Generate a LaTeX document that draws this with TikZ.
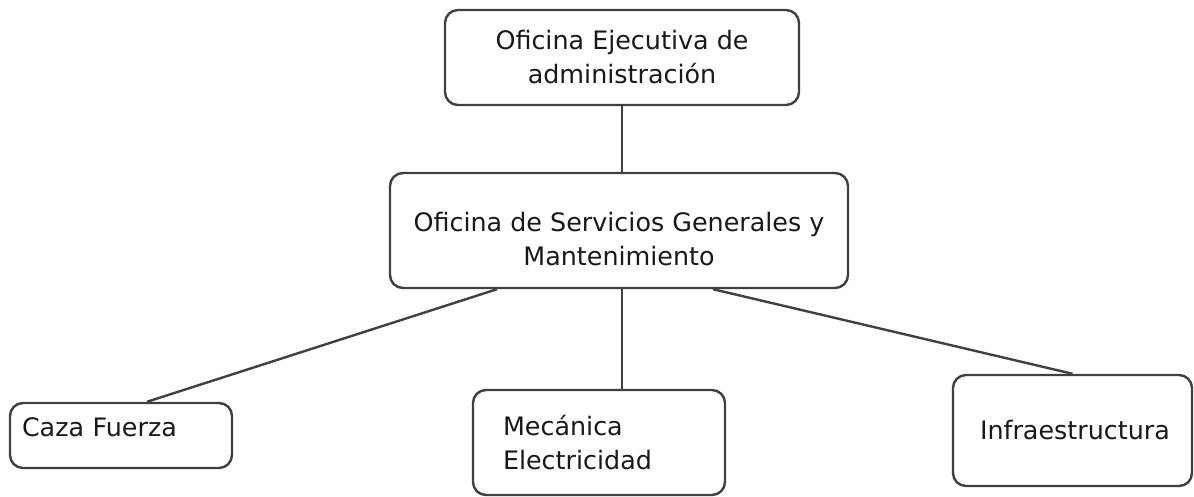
\documentclass[tikz,border=0pt]{standalone}
\usepackage{fontspec}
\setmainfont{DejaVu Sans}
\usetikzlibrary{positioning}
\tikzset{
    office/.style={
		draw=black!75, line width=2.4pt, rounded corners=13pt,
		text=black!90, font=\fontsize{25.4}{34}\selectfont
	}
}
\tikzset{
    link/.style={draw=black!75, line width=2.4pt}
}

\begin{document}
\begin{tikzpicture}[x=1pt,y=-1pt]
			\useasboundingbox (0,0) rectangle (1194,497);
			\node[office, minimum width=354pt, minimum height=95pt, align=center] (ejecutiva) at (622,57.5) {Oficina Ejecutiva de\\administración};
			\node[office, minimum width=458pt, minimum height=115pt, align=center, text height=70pt] (servicios) at (619,230.5) {Oficina de Servicios Generales y\\Mantenimiento};
			\node[office, minimum width=222pt, minimum height=65pt, text width=198pt, inner xsep=12pt, align=left, text depth=16pt] (caza) at (121,435.5) {Caza Fuerza};
			\node[office, minimum width=252pt, minimum height=105pt, text width=192pt, inner xsep=30pt, align=left] (mecanica) at (599,442.5) {Mecánica\\Electricidad};
			\node[office, minimum width=239pt, minimum height=111pt, text width=185pt, inner xsep=27pt, align=left] (infra) at (1072.5,430.5) {Infraestructura};
			\draw[link] (ejecutiva.south) -- (ejecutiva.south |- servicios.north);
			\draw[link] ([xshift=-122pt]servicios.south) -- ([xshift=26pt]caza.north);
			\draw[link] ([xshift=3pt]servicios.south) -- ([xshift=3pt]servicios.south |- mecanica.north);
			\draw[link] ([xshift=94pt]servicios.south) -- (infra.north);
	\end{tikzpicture}
\end{document}
